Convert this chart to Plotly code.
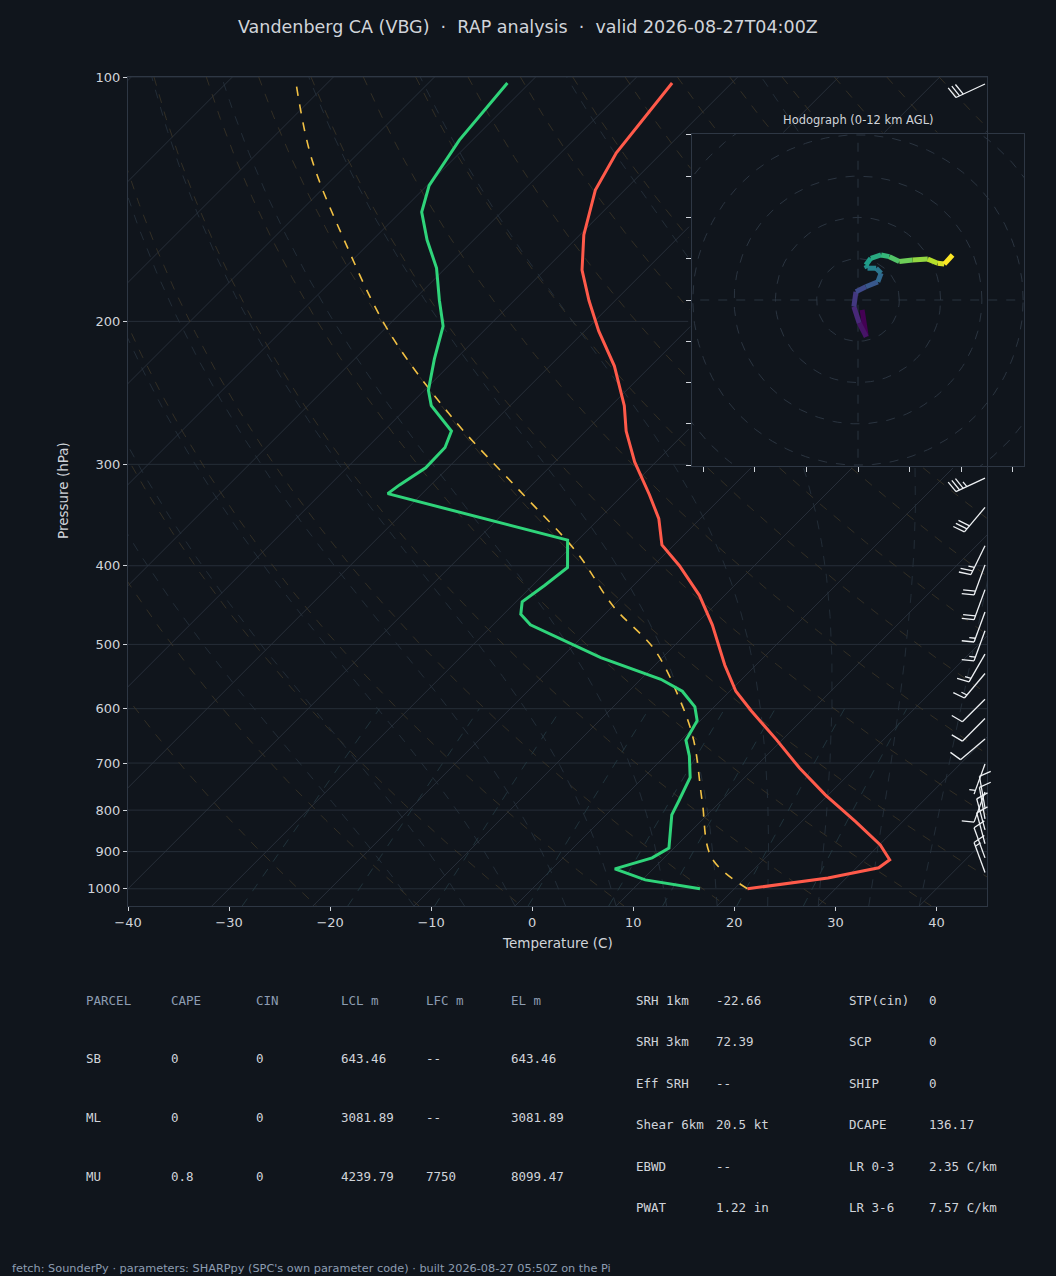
import numpy as np
import plotly.graph_objects as go
from plotly.colors import sample_colorscale

# sounding
pres_t = [101.7, 124, 137.8, 156.5, 172.9, 188.5, 205.6, 227, 254, 273, 298, 327, 350, 377, 400,
          435, 473, 530, 571, 604, 655, 710, 766, 827, 883, 921, 942, 970, 1000]
temp = [-65.9, -64.5, -62.9, -59.6, -56.3, -52.6, -48.6, -43.6, -38.7, -36.0, -32.1, -27.4, -24.1,
        -21.2, -17.4, -12.5, -8.3, -3.1, 0.6, 4.1, 9.4, 14.5, 19.7, 25.4, 30.1, 32.5, 32.2, 28.2, 21.3]
pres_d = [101.7, 119.6, 136, 146.7, 158.8, 171.9, 188.5, 202.7, 222.6, 243.2, 254, 272.9, 286, 303,
          318, 326, 372, 402, 423, 443, 459, 473, 519, 552, 571, 597, 621, 656, 686, 729, 779, 811,
          891, 916, 945, 975, 1000]
dewp = [-82.2, -81.3, -79.8, -77.9, -74.6, -70.9, -67.4, -64.5, -62.1, -59.6, -57.8, -53.3, -52.3,
        -52.2, -53.1, -53.4, -31.0, -28.3, -28.8, -29.4, -28.3, -26.3, -16.1, -8.0, -4.7, -1.9,
        -0.3, 0.5, 2.4, 4.6, 5.8, 6.5, 9.5, 8.8, 6.2, 10.3, 16.6]
pres_parcel = [1000, 916, 779, 655, 585, 508, 449, 385, 323, 265, 205.6, 158.8, 126, 102]
t_parcel = [21.3, 14.7, 8.1, 1.2, -4.1, -11.5, -19.9, -28.9, -40.7, -54.0, -69.4, -82.8, -94.1, -103]

# wind barbs: pressure, speed (kt), direction from (deg)
barb_p = [102, 312, 339, 378, 399, 428, 456, 481, 514, 543, 584, 617, 654, 702, 760, 795, 820,
          846, 880, 916, 955]
barb_spd = [30, 35, 30, 25, 20, 20, 15, 15, 15, 15, 10, 10, 10, 5, 10, 10, 10, 10, 10, 10, 15]
barb_dir = [245, 245, 220, 206, 200, 200, 200, 200, 210, 220, 225, 225, 230, 200, 200, 350, 350,
            345, 345, 340, 340]

# hodograph u, v
hodo_u = [1.0, 2.0, 0.3, -1.0, -0.5, 1.9, 4.8, 5.6, 4.4, 2.3, 1.9, 3.1, 5.6, 7.6, 10.0, 13.2,
          16.9, 19.3, 20.9, 22.9]
hodo_v = [-2.4, -8.9, -5.6, -1.6, 2.0, 3.2, 4.4, 6.5, 7.7, 7.7, 8.5, 10.1, 10.9, 10.5, 9.3, 9.7,
          9.9, 8.9, 8.7, 10.9]

title = "Vandenberg CA (VBG)  ·  RAP analysis  ·  valid 2026-08-27T04:00Z"
parcel_cols = ["PARCEL", "CAPE", "CIN", "LCL m", "LFC m", "EL m"]
parcel_rows = [["SB", "0", "0", "643.46", "--", "643.46"],
               ["ML", "0", "0", "3081.89", "--", "3081.89"],
               ["MU", "0.8", "0", "4239.79", "7750", "8099.47"]]
kin_labels = ["SRH 1km", "SRH 3km", "Eff SRH", "Shear 6km", "EBWD", "PWAT"]
kin_values = ["-22.66", "72.39", "--", "20.5 kt", "--", "1.22 in"]
comp_labels = ["STP(cin)", "SCP", "SHIP", "DCAPE", "LR 0-3", "LR 3-6"]
comp_values = ["0", "0", "0", "136.17", "2.35 C/km", "7.57 C/km"]
footer = "fetch: SounderPy · parameters: SHARPpy (SPC's own parameter code) · built 2026-08-27 05:50Z on the Pi"

W, H = 1056, 1276
BG = "#10151c"
TXT = "#d0d4da"
EDGE = "#2e3744"
K = 80.33  # skew, deg C per decade of pressure

# pixel layout
MX0, MX1, MY0, MY1 = 128, 987, 77, 906
HX0, HX1, HY0, HY1 = 692, 1024, 134, 466


def skew(t, p):
    return np.asarray(t, float) + K * np.log10(1000.0 / np.asarray(p, float))


def to_px(xs, p):
    px = MX0 + (np.asarray(xs) + 40) * (MX1 - MX0) / 85.0
    py = MY0 + (MY1 - MY0) * np.log10(np.asarray(p) / 100.0) / np.log10(10.5)
    return px, py


def clip_inset(xs, p):
    xs = np.array(xs, float)
    px, py = to_px(xs, p)
    inside = (px > HX0 - 1) & (px < HX1 + 1) & (py > HY0 - 1) & (py < HY1 + 1)
    return [None if m else float(v) for v, m in zip(xs, inside)]


fig = go.Figure()


def bg_line(xs, p, color, dash, width=0.8):
    fig.add_trace(go.Scatter(x=clip_inset(xs, p), y=[float(v) for v in p], mode="lines", hoverinfo="skip",
                             line=dict(color=color, width=width, dash=dash),
                             showlegend=False, xaxis="x", yaxis="y", connectgaps=False))


pp = np.logspace(np.log10(100), np.log10(1050), 300)
# isobars
for pl in range(100, 1001, 100):
    xs = np.linspace(-40, 45, 300)
    bg_line(xs, np.full_like(xs, pl), "#262e38", "solid", 1)
# isotherms
for t0 in range(-160, 50, 10):
    bg_line(skew(np.full_like(pp, t0), pp), pp, "#2a323d", "solid", 0.9)
# dry adiabats
for th in range(250, 480, 10):
    tk = th * (pp / 1000.0) ** 0.2857 - 273.15
    bg_line(skew(tk, pp), pp, "#3b3527", "dash", 0.8)


# moist adiabats
def es(tc):
    return 6.112 * np.exp(17.67 * tc / (tc + 243.5))


def moist(t0):
    ps = np.linspace(1050, 100, 400)
    ts = [t0]
    for i in range(1, len(ps)):
        T = ts[-1] + 273.15
        p = ps[i - 1]
        rs = 0.622 * es(ts[-1]) / (p - es(ts[-1]))
        dtdp = (287.0 * T + 2.5e6 * rs) / (1004.0 + 2.5e6 ** 2 * rs * 0.622 / (287.0 * T * T)) / p
        ts.append(ts[-1] + dtdp * (ps[i] - p))
    return np.array(ts), ps


for t0 in range(-10, 45, 5):
    ts, ps = moist(t0)
    bg_line(skew(ts, ps), ps, "#27323e", "dash", 0.8)
# mixing ratio lines
for w in [0.4, 1, 2, 4, 7, 10, 16, 24]:
    pm = np.linspace(1050, 600, 60)
    e = (w / 1000.0) * pm / (0.622 + w / 1000.0)
    lg = np.log(e / 6.112)
    td = 243.5 * lg / (17.67 - lg)
    bg_line(skew(td, pm), pm, "#253a42", "dash", 0.8)

# profiles
fig.add_trace(go.Scatter(x=skew(t_parcel, pres_parcel).tolist(), y=pres_parcel, mode="lines",
                         line=dict(color="#f2c144", width=1.6, dash="dash", shape="spline"), showlegend=False))
fig.add_trace(go.Scatter(x=skew(dewp, pres_d).tolist(), y=pres_d, mode="lines",
                         line=dict(color="#2fd47a", width=3), showlegend=False))
fig.add_trace(go.Scatter(x=skew(temp, pres_t).tolist(), y=pres_t, mode="lines",
                         line=dict(color="#ff5a4a", width=3), showlegend=False))

# barbs in pixel space
bx, by = [], []
for p, s, d in zip(barb_p, barb_spd, barb_dir):
    _, y0 = to_px([0], [p])
    y0 = float(y0[0])
    x0 = 985.0
    r = np.radians(d)
    sx, sy = float(np.sin(r)), float(-np.cos(r))
    L = 32
    tx, ty = x0 + L * sx, y0 + L * sy
    if HY0 - 5 < y0 < HY1 + 5:
        continue
    bx += [x0, tx, None]
    by += [y0, ty, None]
    qx, qy = -sy, sx
    n_full, half = int(s // 10), (s % 10) >= 5
    pos = 0
    for k in range(n_full):
        ax_, ay_ = tx - pos * sx, ty - pos * sy
        bx += [ax_, ax_ + 12 * qx + 3 * sx, None]
        by += [ay_, ay_ + 12 * qy + 3 * sy, None]
        pos += 4
    if half:
        if n_full == 0:
            pos = 4
        ax_, ay_ = tx - pos * sx, ty - pos * sy
        bx += [ax_, ax_ + 6 * qx + 1.5 * sx, None]
        by += [ay_, ay_ + 6 * qy + 1.5 * sy, None]
fig.add_trace(go.Scatter(x=bx, y=by, mode="lines", line=dict(color="#eef1f4", width=1.3),
                         xaxis="x3", yaxis="y3", showlegend=False, hoverinfo="skip"))

# hodograph
ang = np.linspace(0, 2 * np.pi, 200)
for rr in range(10, 70, 10):
    fig.add_trace(go.Scatter(x=(rr * np.cos(ang)).tolist(), y=(rr * np.sin(ang)).tolist(), mode="lines",
                             line=dict(color="#2e3844", width=0.9, dash="dash"),
                             xaxis="x2", yaxis="y2", showlegend=False, hoverinfo="skip"))
for xs, ys in [([-60, 60], [0, 0]), ([0, 0], [-60, 60])]:
    fig.add_trace(go.Scatter(x=xs, y=ys, mode="lines", line=dict(color="#2e3844", width=0.9, dash="dash"),
                             xaxis="x2", yaxis="y2", showlegend=False, hoverinfo="skip"))
cols = sample_colorscale("Viridis", list(np.linspace(0, 1, len(hodo_u) - 1)))
for i in range(len(hodo_u) - 1):
    fig.add_trace(go.Scatter(x=hodo_u[i:i + 2], y=hodo_v[i:i + 2], mode="lines",
                             line=dict(color=cols[i], width=5), xaxis="x2", yaxis="y2",
                             showlegend=False, hoverinfo="skip"))

fx = lambda v: v / W
fy = lambda v: 1 - v / H

fig.update_layout(
    width=W, height=H, margin=dict(l=0, r=0, t=0, b=0, pad=0, autoexpand=False),
    paper_bgcolor=BG, plot_bgcolor="rgba(0,0,0,0)",
    font=dict(family="DejaVu Sans", color=TXT, size=13),
    xaxis=dict(domain=[fx(MX0), fx(MX1)], range=[-40, 45], tickvals=list(range(-40, 41, 10)),
               ticktext=["−40", "−30", "−20", "−10", "0", "10", "20", "30", "40"],
               showgrid=False, zeroline=False, showline=True, linecolor=EDGE, mirror=True,
               ticks="outside", ticklen=4, tickcolor=TXT, anchor="y", automargin=False),
    yaxis=dict(domain=[fy(MY1), fy(MY0)], type="log", range=[float(np.log10(1050)), 2],
               tickvals=list(range(100, 1001, 100)), showgrid=False, zeroline=False,
               showline=True, linecolor=EDGE, mirror=True, ticks="outside", ticklen=4,
               tickcolor=TXT, anchor="x", automargin=False),
    xaxis2=dict(domain=[fx(HX0), fx(HX1)], range=[-40.2, 40.2], tickvals=[-37.5, -25, -12.5, 0, 12.5, 25, 37.5],
                showticklabels=False, ticks="outside", ticklen=5, tickcolor=TXT, showgrid=False,
                zeroline=False, showline=True, linecolor=EDGE, mirror=True, anchor="y2", automargin=False),
    yaxis2=dict(domain=[fy(HY1), fy(HY0)], range=[-40.2, 40.2], tickvals=list(range(-40, 41, 10)),
                showticklabels=False, ticks="outside", ticklen=5, tickcolor=TXT, showgrid=False,
                zeroline=False, showline=True, linecolor=EDGE, mirror=True, anchor="x2", automargin=False),
    xaxis3=dict(domain=[0, 1], range=[0, W], visible=False, anchor="y3"),
    yaxis3=dict(domain=[0, 1], range=[H, 0], visible=False, anchor="x3"),
)

ann = []


def txt(x, y, s, size=13, color=TXT, family="DejaVu Sans", xanchor="left", **kw):
    ann.append(dict(x=fx(x), y=fy(y), xref="paper", yref="paper", text=s, showarrow=False,
                    xanchor=xanchor, yanchor="middle", font=dict(size=size, color=color, family=family), **kw))


txt(528, 27, title, size=17.5, xanchor="center")
txt(557, 943, "Temperature (C)", size=13.5, xanchor="center")
txt(63, 491, "Pressure (hPa)", size=13.5, xanchor="center", textangle=-90)
txt(858, 120, "Hodograph (0-12 km AGL)", size=11.5, xanchor="center")

MONO = "DejaVu Sans Mono"
col_x = [84, 169, 254, 339, 424, 509]
for cx, c in zip(col_x, parcel_cols):
    txt(cx, 1000, c, size=12.5, color="#8d9db2", family=MONO)
for ry, row in zip([1058, 1117, 1176], parcel_rows):
    for cx, c in zip(col_x, row):
        txt(cx, ry, c, size=12.5, family=MONO)
for i, (a, b) in enumerate(zip(kin_labels, kin_values)):
    y = 1000 + i * 41.5
    txt(634, y, a, size=12.5, family=MONO)
    txt(714, y, b, size=12.5, family=MONO)
for i, (a, b) in enumerate(zip(comp_labels, comp_values)):
    y = 1000 + i * 41.5
    txt(847, y, a, size=12.5, family=MONO)
    txt(927, y, b, size=12.5, family=MONO)
txt(10, 1268, footer, size=11.3, color="#8d9db2")
fig.update_layout(annotations=ann)

fig.write_html("out.html", config={"displayModeBar": False})
with open("out.html") as f:
    html = f.read()
html = html.replace("<body>", '<body style="margin:0;background:%s">' % BG, 1)
with open("out.html", "w") as f:
    f.write(html)
